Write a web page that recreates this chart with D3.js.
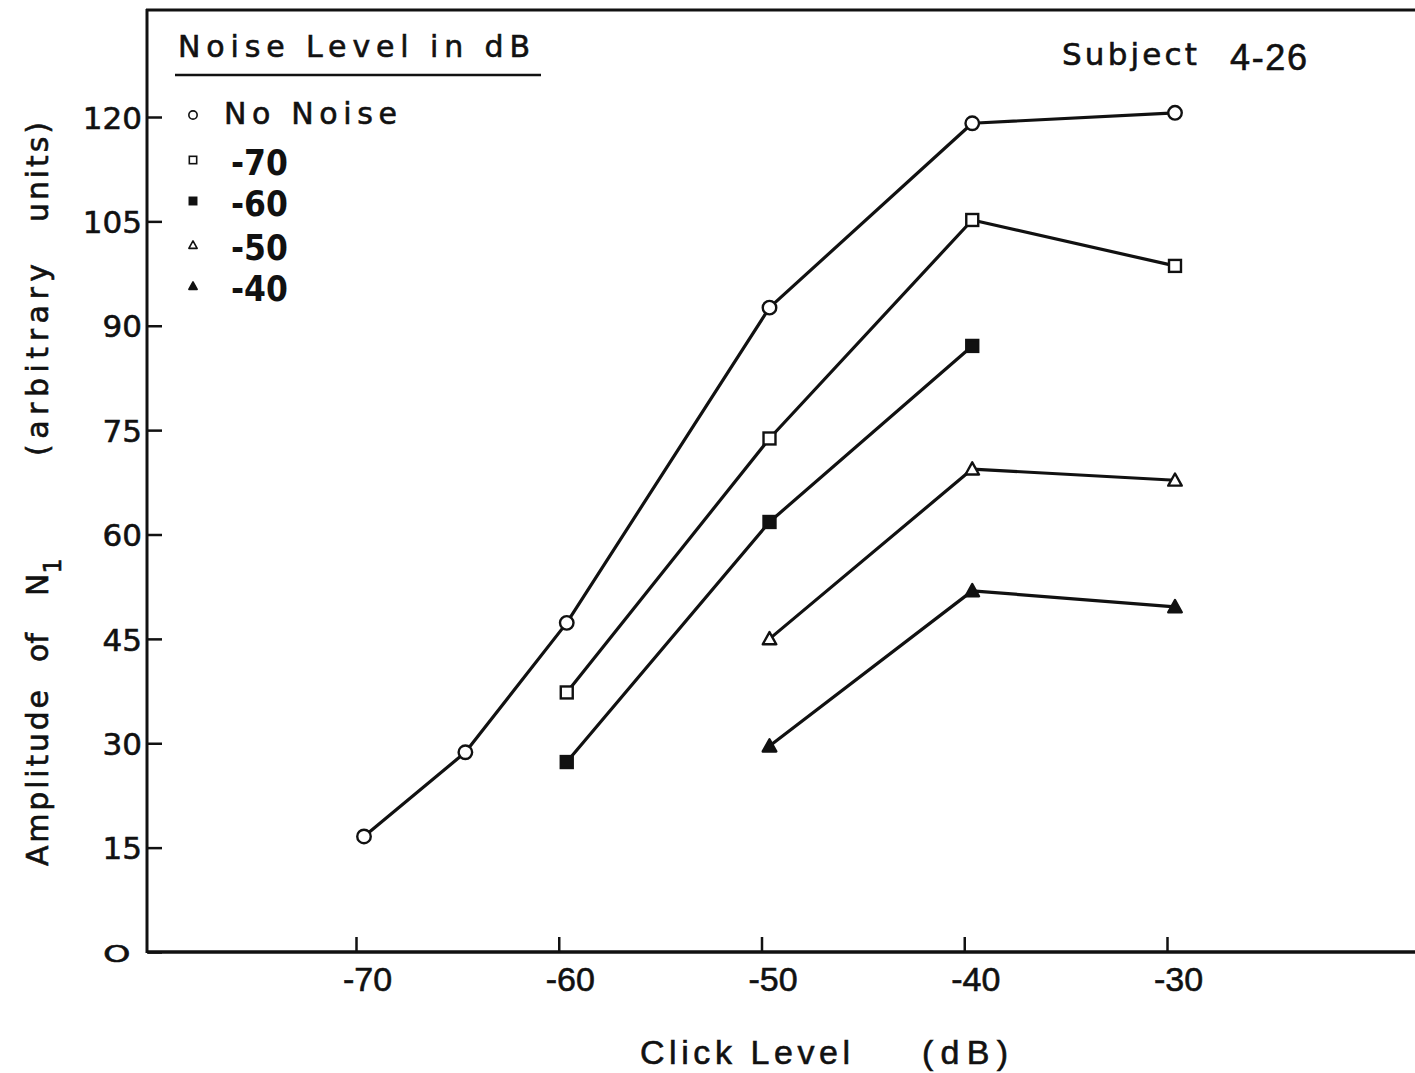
<!DOCTYPE html>
<html>
<head>
<meta charset="utf-8">
<script src="https://cdn.jsdelivr.net/npm/d3@7"></script>
<style>
  html, body { margin: 0; padding: 0; background: #fff; }
  svg { display: block; }
</style>
</head>
<body>
<svg id="chart" width="1415" height="1073"></svg>
<script>
// ---- Data ----
const clickLevels = [-70, -65, -60, -50, -40, -30];
const xTicks = [-70, -60, -50, -40, -30];
const yTicks = [0, 15, 30, 45, 60, 75, 90, 105, 120];

const seriesNames = ["No Noise", "-70", "-60", "-50", "-40"];
const seriesMarkers = ["circle-open", "square-open", "square-filled", "triangle-open", "triangle-filled"];

const noNoiseX = [-70, -65, -60, -50, -40, -30];
const noNoiseY = [16.6, 28.7, 47.3, 92.6, 119.1, 120.6];
const noise70X = [-60, -50, -40, -30];
const noise70Y = [37.3, 73.8, 105.2, 98.6];
const noise60X = [-60, -50, -40];
const noise60Y = [27.3, 61.8, 87.1];
const noise50X = [-50, -40, -30];
const noise50Y = [45.0, 69.4, 67.8];
const noise40X = [-50, -40, -30];
const noise40Y = [29.6, 51.9, 49.6];

const seriesData = [
  [noNoiseX, noNoiseY],
  [noise70X, noise70Y],
  [noise60X, noise60Y],
  [noise50X, noise50Y],
  [noise40X, noise40Y]
].map(([xs, ys], i) => ({
  name: seriesNames[i],
  marker: seriesMarkers[i],
  points: xs.map((xv, j) => ({ x: xv, y: ys[j] }))
}));

// ---- Layout ----
const svg = d3.select("#chart");
const plotLeft = 148, plotRight = 1415, plotTop = 10, plotBottom = 952;
const x = d3.scaleLinear().domain([-70, -30]).range([364, 1175]);
const y = d3.scaleLinear().domain([0, 120]).range([952, 117]);

const ink = "#111";
const tFont = "'DejaVu Sans', 'Liberation Sans', sans-serif";
const hFont = "'Liberation Sans', Arial, sans-serif";

function styleText(sel, family, size) {
  return sel.attr("font-family", family).attr("font-size", size)
    .attr("fill", ink).attr("stroke", ink).attr("stroke-width", 0.6);
}

// Frame: top line, left axis, bottom axis
svg.append("line").attr("x1", plotLeft - 2).attr("x2", plotRight).attr("y1", plotTop).attr("y2", plotTop)
  .attr("stroke", ink).attr("stroke-width", 3);
svg.append("line").attr("x1", plotLeft - 1).attr("x2", plotLeft - 1).attr("y1", plotTop - 1).attr("y2", plotBottom + 1)
  .attr("stroke", ink).attr("stroke-width", 3);
svg.append("line").attr("x1", plotLeft - 1).attr("x2", plotRight).attr("y1", plotBottom).attr("y2", plotBottom)
  .attr("stroke", ink).attr("stroke-width", 3.5);

// Y axis
const yAxis = d3.axisLeft(y).tickValues(yTicks).tickSizeInner(-14).tickSizeOuter(0).tickPadding(6)
  .tickFormat(d => d === 0 ? "O" : d);
const gy = svg.append("g").attr("transform", `translate(${plotLeft},0)`).call(yAxis);
gy.select(".domain").remove();
gy.selectAll(".tick line").attr("stroke", ink).attr("stroke-width", 2.5);
styleText(gy.selectAll(".tick text"), tFont, 31).attr("dy", "0.36em");
gy.selectAll(".tick").filter(d => d === 0).select("text")
  .attr("font-size", 28).attr("transform", "scale(1.25,0.85)").attr("x", -14).attr("y", 1);

// X axis
const xAxis = d3.axisBottom(x).tickValues(xTicks).tickSizeInner(-15).tickSizeOuter(0).tickPadding(15)
  .tickFormat(d => "-" + Math.abs(d));
const gx = svg.append("g").attr("transform", `translate(0,${plotBottom})`).call(xAxis);
gx.select(".domain").remove();
gx.selectAll(".tick line").attr("stroke", ink).attr("stroke-width", 2.5).attr("transform", "translate(-8,0)");
styleText(gx.selectAll(".tick text"), hFont, 34).attr("x", 3);

// Axis titles
styleText(svg.append("text").attr("x", 640).attr("y", 1064).text("Click Level"), hFont, 34)
  .attr("textLength", 210).attr("lengthAdjust", "spacing");
styleText(svg.append("text").attr("x", 922).attr("y", 1064).text("(dB)"), hFont, 34)
  .attr("textLength", 86).attr("lengthAdjust", "spacing");

const yl = svg.append("g").attr("transform", "translate(48,0) rotate(-90)");
styleText(yl.append("text").attr("x", -866).attr("y", 0).text("Amplitude"), tFont, 30)
  .attr("textLength", 176).attr("lengthAdjust", "spacing");
styleText(yl.append("text").attr("x", -662).attr("y", 0).text("of"), tFont, 30);
const nt = styleText(yl.append("text").attr("x", -596).attr("y", 0), tFont, 30);
nt.append("tspan").text("N");
nt.append("tspan").text("1").attr("dy", 13).attr("font-size", 24);
styleText(yl.append("text").attr("x", -456).attr("y", 0).text("(arbitrary"), tFont, 30)
  .attr("textLength", 192).attr("lengthAdjust", "spacing");
styleText(yl.append("text").attr("x", -222).attr("y", 0).text("units)"), tFont, 30)
  .attr("textLength", 100).attr("lengthAdjust", "spacing");

// ---- Marker drawing ----
function drawMarker(g, type, cx, cy, s) {
  const sw = s > 8 ? 2.4 : 1.6;
  if (type.startsWith("circle")) {
    g.append("circle").attr("cx", cx).attr("cy", cy).attr("r", s * 0.52)
      .attr("fill", type.endsWith("filled") ? ink : "#fff").attr("stroke", ink).attr("stroke-width", sw);
  } else if (type.startsWith("square")) {
    const h = s * 0.46;
    g.append("rect").attr("x", cx - h).attr("y", cy - h).attr("width", 2 * h).attr("height", 2 * h)
      .attr("fill", type.endsWith("filled") ? ink : "#fff").attr("stroke", ink).attr("stroke-width", sw);
  } else {
    const h = s * 0.52;
    const pts = [[cx, cy - h], [cx + h, cy + h * 0.8], [cx - h, cy + h * 0.8]];
    g.append("path").attr("d", "M" + pts.map(p => p.join(",")).join("L") + "Z")
      .attr("fill", type.endsWith("filled") ? ink : "#fff").attr("stroke", ink).attr("stroke-width", sw)
      .attr("stroke-linejoin", "round");
  }
}

// ---- Series lines & markers ----
const line = d3.line().x(d => x(d.x)).y(d => y(d.y));
const gs = svg.append("g");
seriesData.forEach(s => {
  gs.append("path").attr("d", line(s.points)).attr("fill", "none")
    .attr("stroke", ink).attr("stroke-width", 3.2).attr("stroke-linejoin", "round");
});
seriesData.forEach(s => {
  s.points.forEach(p => drawMarker(gs, s.marker, x(p.x), y(p.y), 13));
});

// ---- Legend ----
styleText(svg.append("text").attr("x", 178).attr("y", 57).text("Noise Level in dB"), tFont, 30)
  .attr("textLength", 352).attr("lengthAdjust", "spacing");
svg.append("line").attr("x1", 175).attr("x2", 541).attr("y1", 75).attr("y2", 75)
  .attr("stroke", ink).attr("stroke-width", 2.5);

const legY = [115, 160, 201, 245, 286];
seriesData.forEach((s, i) => {
  drawMarker(svg, s.marker, 193, legY[i], 8);
  if (i === 0) {
    styleText(svg.append("text").attr("x", 224).attr("y", 124).text(s.name), tFont, 30)
      .attr("textLength", 173).attr("lengthAdjust", "spacing");
  } else {
    svg.append("text").attr("x", 231).attr("y", legY[i] + 15).text(s.name)
      .attr("font-family", "'Liberation Sans Narrow', 'DejaVu Sans Condensed', sans-serif")
      .attr("font-weight", "bold").attr("font-size", 35)
      .attr("textLength", 57).attr("lengthAdjust", "spacing").attr("fill", ink);
  }
});

// Subject label
styleText(svg.append("text").attr("x", 1062).attr("y", 65).text("Subject"), tFont, 31)
  .attr("textLength", 135).attr("lengthAdjust", "spacing");
styleText(svg.append("text").attr("x", 1230).attr("y", 70).text("4-26"), hFont, 36)
  .attr("textLength", 77).attr("lengthAdjust", "spacing");
</script>
</body>
</html>
